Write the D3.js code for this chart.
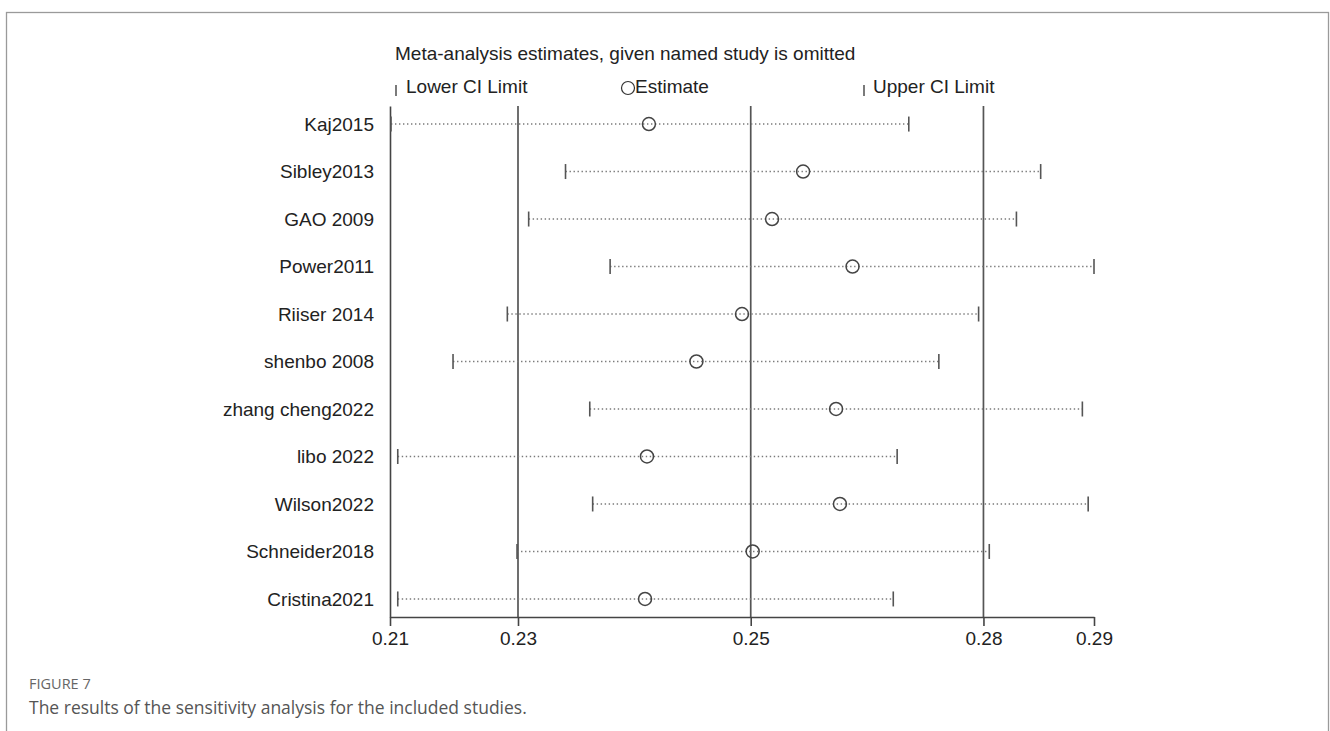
<!DOCTYPE html>
<html>
<head>
<meta charset="utf-8">
<script src="https://cdn.jsdelivr.net/npm/d3@7"></script>
<style>
  body { margin: 0; background: #fff; }
  svg text { font-family: "Liberation Sans", Arial, sans-serif; }
  .cap { font-family: "Open Sans", "Noto Sans", sans-serif; }
</style>
</head>
<body>
<div id="graph"></div>
<script>
// studies omitted one at a time
var studies = ["Kaj2015", "Sibley2013", "GAO 2009", "Power2011", "Riiser 2014",
  "shenbo 2008", "zhang cheng2022", "libo 2022", "Wilson2022", "Schneider2018", "Cristina2021"];
var estimates = [0.2415, 0.2574, 0.2542, 0.2625, 0.2511, 0.2464, 0.2608, 0.2413, 0.2612, 0.2522, 0.2411];
var lowerCI   = [0.2149, 0.2329, 0.2291, 0.2375, 0.2269, 0.2213, 0.2354, 0.2156, 0.2357, 0.2279, 0.2156];
var upperCI   = [0.2683, 0.2819, 0.2794, 0.2874, 0.2755, 0.2714, 0.2862, 0.2671, 0.2868, 0.2766, 0.2667];

// pooled estimate with its CI (vertical reference lines)
var pooled = [0.2280, 0.2520, 0.2760];

// axis runs from smallest lower limit to largest upper limit
var axisRange = [0.2148, 0.2874];
var tickValues = [0.2148, 0.2280, 0.2520, 0.2760, 0.2874];
var tickLabels = ["0.21", "0.23", "0.25", "0.28", "0.29"];

var width = 1330, height = 731;
var plot = {left: 390, right: 1094, top: 106, bottom: 617};

var svg = d3.select("#graph").append("svg")
    .attr("width", width)
    .attr("height", height);

// page frame
svg.append("rect")
    .attr("x", 6.5).attr("y", 12.5)
    .attr("width", 1322).attr("height", 800)
    .attr("fill", "none")
    .attr("stroke", "#9a9a9a")
    .attr("stroke-width", 1.3);

var x = d3.scaleLinear().domain(axisRange).range([plot.left, plot.right]);
var y = d3.scalePoint().domain(studies).range([plot.top, plot.bottom]).padding(0.38);

// title + legend
svg.append("text")
    .attr("x", 395).attr("y", 60)
    .attr("font-size", 19).attr("fill", "#222")
    .text("Meta-analysis estimates, given named study is omitted");

var leg = svg.append("g").attr("fill", "#222").attr("font-size", 19);
leg.append("line").attr("x1", 396).attr("x2", 396).attr("y1", 85).attr("y2", 96)
    .attr("stroke", "#333").attr("stroke-width", 1.3);
leg.append("text").attr("x", 406).attr("y", 93).text("Lower CI Limit");
leg.append("circle").attr("cx", 628).attr("cy", 88).attr("r", 6.5)
    .attr("fill", "none").attr("stroke", "#333").attr("stroke-width", 1.2);
leg.append("text").attr("x", 635).attr("y", 93).text("Estimate");
leg.append("line").attr("x1", 864).attr("x2", 864).attr("y1", 85).attr("y2", 96)
    .attr("stroke", "#333").attr("stroke-width", 1.3);
leg.append("text").attr("x", 873).attr("y", 93).text("Upper CI Limit");

// reference lines
svg.selectAll(".ref").data(pooled).enter().append("line")
    .attr("class", "ref")
    .attr("x1", function(d) { return x(d); })
    .attr("x2", function(d) { return x(d); })
    .attr("y1", plot.top).attr("y2", plot.bottom)
    .attr("stroke", "#555").attr("stroke-width", 1.7);

// axes
var xAxis = svg.append("g")
    .attr("transform", "translate(0," + plot.bottom + ")")
    .call(d3.axisBottom(x).tickValues(tickValues)
      .tickFormat(function(d, i) { return tickLabels[i]; })
      .tickSize(9).tickSizeOuter(0).tickPadding(6));
xAxis.selectAll("text").attr("font-size", 19).attr("fill", "#222")
    .attr("font-family", "'Liberation Sans', Arial, sans-serif");
xAxis.selectAll("line, path").attr("stroke", "#444").attr("stroke-width", 1.6);

var yAxis = svg.append("g")
    .attr("transform", "translate(" + plot.left + ",0)")
    .call(d3.axisLeft(y).tickSize(0).tickSizeOuter(0).tickPadding(16));
yAxis.selectAll("text").attr("font-size", 19).attr("fill", "#222")
    .attr("font-family", "'Liberation Sans', Arial, sans-serif");
yAxis.select("path").attr("stroke", "#444").attr("stroke-width", 1.6);

// rows
var rows = svg.selectAll(".row").data(studies).enter().append("g").attr("class", "row");

rows.append("line")
    .attr("x1", function(d, i) { return x(lowerCI[i]); })
    .attr("x2", function(d, i) { return x(upperCI[i]); })
    .attr("y1", function(d) { return y(d); })
    .attr("y2", function(d) { return y(d); })
    .attr("stroke", "#7a7a7a").attr("stroke-width", 1.4)
    .attr("stroke-dasharray", "1.4,2.6");

[lowerCI, upperCI].forEach(function(arr) {
  rows.append("line")
      .attr("x1", function(d, i) { return x(arr[i]); })
      .attr("x2", function(d, i) { return x(arr[i]); })
      .attr("y1", function(d) { return y(d) - 7.5; })
      .attr("y2", function(d) { return y(d) + 7.5; })
      .attr("stroke", "#555").attr("stroke-width", 1.6);
});

rows.append("circle")
    .attr("cx", function(d, i) { return x(estimates[i]); })
    .attr("cy", function(d) { return y(d); })
    .attr("r", 6.5)
    .attr("fill", "none")
    .attr("stroke", "#444").attr("stroke-width", 1.5);

// figure caption
svg.append("text").attr("class", "cap")
    .attr("x", 29).attr("y", 689)
    .attr("font-size", 14.5).attr("fill", "#666")
    .text("FIGURE 7");
svg.append("text").attr("class", "cap")
    .attr("x", 29).attr("y", 714)
    .attr("font-size", 17.5).attr("fill", "#555")
    .text("The results of the sensitivity analysis for the included studies.");
</script>
</body>
</html>
